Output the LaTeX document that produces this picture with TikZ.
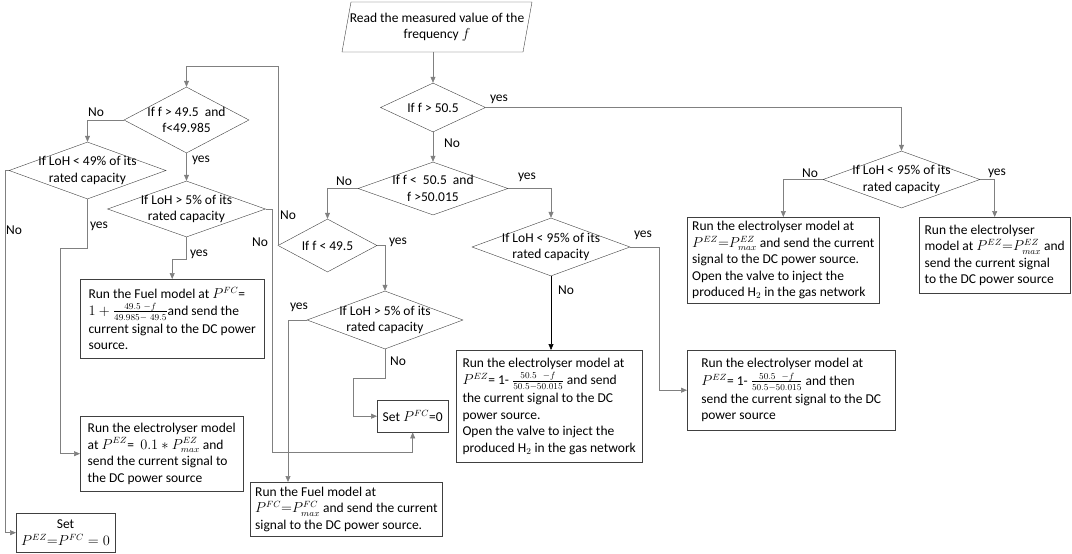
\documentclass[tikz,border=0pt]{standalone}
\usepackage{fontspec}
\setmainfont{Carlito}
\usepackage{amsmath}
\usetikzlibrary{shapes.geometric, arrows.meta, calc}
\newcommand{\chartfont}{\fontsize{13.5}{16.5}\selectfont\lineskiplimit=3pt\relax\lineskip=3pt\relax}

\begin{document}
\begin{tikzpicture}[x=1pt, y=-1pt, >={Triangle[length=6pt, width=5pt]},
    every node/.style={font=\chartfont},
    dec/.style={diamond, draw=black!75, inner sep=0pt},
    box/.style={draw=black!75, align=left, anchor=north west, inner xsep=5pt, inner ysep=1pt},
    lbl/.style={inner sep=1pt},
    link/.style={draw=black!50, semithick}]
    %\draw[step=50, gray!20, very thin] (0,0) grid (1072,554);
    \useasboundingbox (0,0) rectangle (1072,554);

    \node[align=center, inner sep=0pt, minimum width=172pt, minimum height=50pt] (read) at (437,27) {Read the measured value of the\\frequency $f$};
    \draw[black!75] ($(read)+(-95,25)$) -- ($(read)+(-86,-25)$) -- ($(read)+(95,-25)$) -- ($(read)+(86,25)$) -- cycle;

    % decisions
    \node[dec, minimum width=105pt, minimum height=49pt, label={[align=center]center:If f > 50.5}] (d1) at (433,107.5) {};
    \node[dec, minimum width=157pt, minimum height=57pt, label={[align=center]center:If LoH < 95\% of its\\rated capacity}] (d2) at (901.5,179.5) {};
    \node[dec, minimum width=150pt, minimum height=53pt, label={[align=center]center:If f <\ \ 50.5\ \ and\\f >50.015}] (d3) at (433,188.5) {};
    \node[dec, minimum width=99pt, minimum height=53pt, label={[align=center]center:If f < 49.5}] (d4) at (327.5,245.5) {};
    \node[dec, minimum width=158pt, minimum height=58pt, label={[align=center]center:If LoH < 95\% of its\\rated capacity}] (d5) at (551,247) {};
    \node[dec, minimum width=156pt, minimum height=58pt, label={[align=center]center:If LoH > 5\% of its\\rated capacity}] (d6) at (385,320) {};
    \node[dec, minimum width=125pt, minimum height=66pt, label={[align=center]center:If f > 49.5\ \ and\\f<49.985}] (d7) at (186.5,120) {};
    \node[dec, minimum width=157pt, minimum height=57pt, label={[align=center]center:If LoH < 49\% of its\\rated capacity}] (d8) at (87.5,170.5) {};
    \node[dec, minimum width=158pt, minimum height=56pt, label={[align=center]center:If LoH > 5\% of its\\rated capacity}] (d9) at (186.5,209) {};

    % actions
    \node[box, minimum width=186pt, minimum height=86pt] (ezmax) at (687,217) {Run the electrolyser model at\\$P^{EZ}{=}P^{EZ}_{max}$ and send the current\\signal to the DC power source.\\Open the valve to inject the\\produced H$_2$ in the gas network};
    \node[box, minimum width=151pt, minimum height=76pt] (ezmaxr) at (919,217) {Run the electrolyser\\model at $P^{EZ}{=}P^{EZ}_{max}$ and\\send the current signal\\to the DC power source};
    \node[box, minimum width=186pt, minimum height=112pt] (ezvalve) at (456,350) {Run the electrolyser model at\\$P^{EZ}$= 1- $\frac{50.5\ \ -f}{50.5-50.015}$ and send\\the current signal to the DC\\power source.\\Open the valve to inject the\\produced H$_2$ in the gas network};
    \node[box, minimum width=208pt, minimum height=80pt] (ezthen) at (687,350) {Run the electrolyser model at\\$P^{EZ}$= 1- $\frac{50.5\ \ -f}{50.5-50.015}$ and then\\send the current signal to the DC\\power source};
    \node[box, minimum width=71pt, minimum height=32pt] (setfc) at (377,400) {Set $P^{FC}$=0};
    \node[box, minimum width=187pt, minimum height=54pt] (fcmax) at (250,482) {Run the Fuel model at\\$P^{FC}{=}P^{FC}_{max}$ and send the current\\signal to the DC power source.};
    \node[box, minimum width=184pt, minimum height=79pt] (fcfrac) at (80,279) {Run the Fuel model at $P^{FC}$=\\$1+\frac{49.5\ -f}{49.985-\ 49.5}$and send the\\current signal to the DC power\\source.};
    \node[box, minimum width=163pt, minimum height=75pt] (ez01) at (80,416) {Run the electrolyser model\\at $P^{EZ}$=\ \ $0.1*P^{EZ}_{max}$ and\\send the current signal to\\the DC power source};
    \node[box, align=center, minimum width=88pt, minimum height=39pt] (setall) at (16,513) {Set\\$P^{EZ}{=}P^{FC}=0$};

    % branch labels
    \node[lbl] (y1) at (499,99) {yes};
    \node[lbl] (n1) at (452,143) {No};
    \node[lbl] (n2) at (810,173) {No};
    \node[lbl] (y2) at (997,173) {yes};
    \node[lbl] (n3) at (344,181) {No};
    \node[lbl] (y3) at (527,177) {yes};
    \node[lbl] (y4) at (643,235) {yes};
    \node[lbl] (n4) at (566,290) {No};
    \node[lbl] (y5) at (398,242) {yes};
    \node[lbl] (n5) at (288,215) {No};
    \node[lbl] (y6) at (299,307) {yes};
    \node[lbl] (n6) at (398,361) {No};
    \node[lbl] (n7) at (96,112) {No};
    \node[lbl] (y7) at (201,160) {yes};
    \node[lbl] (n8) at (14,230) {No};
    \node[lbl] (y8) at (99,226) {yes};
    \node[lbl] (n9) at (260,242) {No};
    \node[lbl] (y9) at (199,254) {yes};

    % connectors
    \draw[link, ->] (d1.north |- read.south) -- (d1.north);
    \draw[link, ->] (d1.east) -| (d2.north);
    \draw[link, ->] (d2.west) -| (ezmax.north);
    \draw[link, ->] (d2.east) -| (ezmaxr.north);
    \draw[link, ->] (d1.south) -- (d3.north);
    \draw[link, ->] (d3.west) -| (d4.north);
    \draw[link, ->] (d3.east) -| (d5.north);
    \draw[link, ->, draw=black] (d5.south) -- (d5.south |- ezvalve.north);
    \draw[link, ->] (d5.east) -- ++(29,0) |- (ezthen.west);
    \draw[link, ->] (d4.east) -| (d6.north);
    \draw[link, ->] (d6.west) -| ($(fcmax.north west)+(38,0)$);
    \draw[link, ->] (d6.south) -- ++(0,29) -| ($(setfc.west)+(-24,0)$) -- (setfc.west);
    \draw[link, ->] (d9.east) -- ++(7,0) -- ++(0,243) -| (setfc.south);
    \draw[link, ->] (d4.west) |- ($(d7.north)+(0,-21)$) -- (d7.north);
    \draw[link, ->] (d7.west) -| (d8.north);
    \draw[link, ->] (d7.south) -- (d9.north);
    \draw[link, ->] (d8.west) -- ++(-4,0) |- (setall.west);
    \draw[link, ->] (d8.south) -- ++(0,49) -| ($(ez01.west)+(-20,0)$) -- (ez01.west);
    \draw[link, ->] (d9.south) -- ++(0,22) -| (fcfrac.north);

  \end{tikzpicture}
\end{document}
